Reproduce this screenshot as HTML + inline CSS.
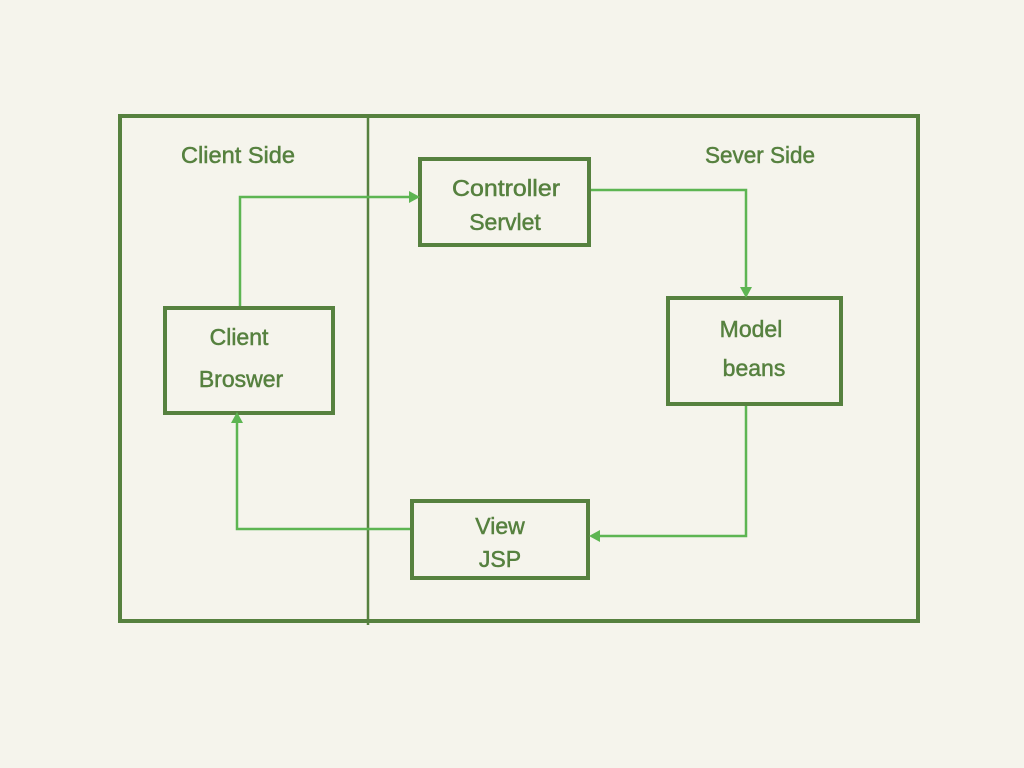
<!DOCTYPE html>
<html><head><style>body{margin:0;background:#f5f4ec}</style></head><body>
<svg width="1024" height="768" xmlns="http://www.w3.org/2000/svg" style="display:block">
<rect width="1024" height="768" fill="#f5f4ec"/>
<g fill="none" stroke="#56813f">
<rect x="120" y="116" width="798" height="505" stroke-width="4"/>
<line x1="368" y1="116" x2="368" y2="625" stroke-width="2.5"/>
<rect x="420" y="159" width="169" height="86" stroke-width="4"/>
<rect x="165" y="308" width="168" height="105" stroke-width="4"/>
<rect x="668" y="298" width="173" height="106" stroke-width="4"/>
<rect x="412" y="501" width="176" height="77" stroke-width="4"/>
</g>
<g fill="none" stroke="#5db552" stroke-width="2.5">
<polyline points="240,306 240,197 412,197"/>
<polyline points="591,190 746,190 746,290"/>
<polyline points="746,406 746,536 597,536"/>
<polyline points="410,529 237,529 237,421"/>
</g>
<g fill="#5db552">
<polygon points="420,197 409,191 409,203"/>
<polygon points="746,298 740,287 752,287"/>
<polygon points="589,536 600,530 600,542"/>
<polygon points="237,412 231,423 243,423"/>
</g>
<g fill="#56813f" stroke="#56813f" stroke-width="0.5" font-family="Liberation Sans, sans-serif" font-size="23" text-anchor="middle">
<text x="238" y="163" textLength="114" lengthAdjust="spacingAndGlyphs">Client Side</text>
<text x="760" y="163" textLength="110" lengthAdjust="spacingAndGlyphs">Sever Side</text>
<text x="506" y="196" textLength="108" lengthAdjust="spacingAndGlyphs">Controller</text>
<text x="505" y="230">Servlet</text>
<text x="239" y="345">Client</text>
<text x="241" y="387">Broswer</text>
<text x="751" y="337">Model</text>
<text x="754" y="376">beans</text>
<text x="500" y="534">View</text>
<text x="500" y="567">JSP</text>
</g>
</svg>
</body></html>
